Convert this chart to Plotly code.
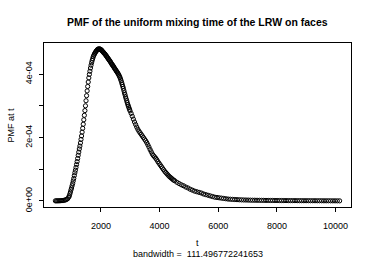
import plotly.graph_objects as go

# t values (grid) and PMF values (units of 1e-6)
t_low = [446, 484, 522, 560, 598, 636, 674, 712, 750, 788, 826, 864]
pmf_low = [0.4, 0.4, 0.5, 0.6, 0.7, 0.9, 1.2, 1.6, 2.3, 3.3, 4.8, 7]

t_rise = [902, 921, 940, 959, 978, 997, 1016, 1035, 1054, 1073, 1092, 1111, 1130, 1149,
          1168, 1187, 1206, 1225, 1244, 1263, 1282, 1301, 1320, 1339, 1358, 1377, 1396,
          1415, 1434, 1453, 1472, 1491, 1510, 1529, 1548, 1567, 1586, 1605, 1624, 1643,
          1662, 1681, 1700, 1719, 1738, 1757, 1776, 1795, 1814, 1833, 1852, 1871, 1890,
          1909, 1928, 1947]
pmf_rise = [12, 16, 22, 28, 35, 41, 48, 55, 63, 71, 80, 89, 97, 106, 115, 124, 134, 144,
            154, 164, 173, 183, 194, 205, 217, 229, 242, 256, 270, 285, 300, 316, 332,
            347, 361, 375, 388, 399, 409, 419, 428, 436, 443, 449, 455, 459, 463, 466,
            469, 472, 474, 476, 478, 479, 479, 479]

t_fall = [1966, 1985, 2004, 2023, 2042, 2061, 2080, 2099, 2118, 2137, 2156, 2175, 2194,
          2213, 2232, 2251, 2270, 2289, 2308, 2327, 2346, 2365, 2384, 2403, 2422, 2441,
          2460, 2479, 2498, 2517, 2536, 2555, 2574, 2593, 2612, 2631, 2650, 2669, 2688,
          2707, 2726, 2745, 2764, 2783, 2802, 2821, 2840, 2859, 2878, 2897, 2916, 2935,
          2954, 2973, 2992]
pmf_fall = [479, 478, 477, 475, 473, 471, 469, 467, 465, 463, 461, 458, 456, 453, 451,
            448, 446, 443, 441, 438, 435, 432, 430, 427, 425, 422, 419, 416, 414, 411,
            408, 406, 403, 400, 397, 393, 389, 384, 379, 373, 367, 361, 355, 348, 341,
            335, 328, 322, 316, 310, 304, 299, 294, 289, 284]

t_shoulder = [3030, 3068, 3106, 3144, 3182, 3220, 3258, 3296, 3334, 3372, 3410, 3448,
              3486, 3524, 3562, 3600, 3638, 3676, 3714, 3752, 3790, 3828, 3866, 3904,
              3942, 3980, 4018, 4056, 4094, 4132, 4170, 4208, 4246, 4284, 4322, 4360,
              4398, 4436, 4474]
pmf_shoulder = [276, 267, 258, 249, 241, 233, 226, 220, 215, 210, 205, 200, 195, 190,
                184, 177, 170, 162, 155, 148, 143, 139, 135, 130, 124, 119, 114, 109,
                104, 99, 94, 90, 86, 82, 78, 75, 72, 69, 66]

t_tail = [4512, 4588, 4664, 4740, 4816, 4892, 4968, 5044, 5120, 5196, 5272, 5348, 5424,
          5500, 5576, 5652, 5728, 5804, 5880, 5956, 6032, 6108, 6184, 6260, 6336, 6412,
          6488, 6564, 6640, 6716, 6792, 6868, 6944, 7020, 7096, 7172, 7248, 7324, 7400,
          7476, 7552, 7628, 7704, 7780, 7856, 7932, 8008, 8084, 8160, 8236, 8312, 8388,
          8464, 8540, 8616, 8692, 8768, 8844, 8920, 8996, 9072, 9148, 9224, 9300, 9376,
          9452, 9528, 9604, 9680, 9756, 9832, 9908, 9984, 10060, 10139]
pmf_tail = [64, 59, 55, 51, 48, 44, 41, 37, 34, 31, 29, 27, 25, 22, 20, 18, 16, 14, 12,
            11, 10, 9, 8, 7, 6, 5.5, 5, 4.6, 4.2, 3.8, 3.5, 3.2, 3, 2.8, 2.6, 2.4, 2.3,
            2.2, 2.1, 2, 1.9, 1.8, 1.7, 1.6, 1.6, 1.5, 1.5, 1.4, 1.4, 1.3, 1.3, 1.2, 1.2,
            1.1, 1.1, 1.0, 1.0, 1.0, 0.9, 0.9, 0.9, 0.8, 0.8, 0.8, 0.7, 0.7, 0.7, 0.6,
            0.6, 0.6, 0.5, 0.5, 0.5, 0.4, 0.4]

x_ticks = [2000, 4000, 6000, 8000, 10000]
y_ticks = [0, 1e-4, 2e-4, 3e-4, 4e-4]
y_tick_labels = ["0e+00", "", "2e-04", "", "4e-04"]

title_text = "PMF of the uniform mixing time of the LRW on faces"
x_label = "t"
sub_label = "bandwidth =\u00a0 111.496772241653"
y_label = "PMF at t"

t_all = t_low + t_rise + t_fall + t_shoulder + t_tail
pmf_all = [v * 1e-6 for v in (pmf_low + pmf_rise + pmf_fall + pmf_shoulder + pmf_tail)]

FONT = "Liberation Sans, Arial, Helvetica, sans-serif"

fig = go.Figure()
fig.add_trace(go.Scatter(
    x=t_all, y=pmf_all, mode="markers",
    marker=dict(symbol="circle-open", size=4.2, color="black", line=dict(width=1, color="black")),
    showlegend=False, hoverinfo="skip"))

fig.update_layout(
    width=374, height=261,
    margin=dict(l=44, r=23, t=43, b=54),
    paper_bgcolor="white", plot_bgcolor="white",
    font=dict(family=FONT, size=9, color="black"),
    xaxis=dict(range=[58, 10527], tickvals=x_ticks, ticktext=[str(v) for v in x_ticks],
               ticks="outside", ticklen=4, tickwidth=1, tickcolor="black",
               showline=True, mirror=True, linecolor="black", linewidth=1,
               showgrid=False, zeroline=False, tickfont=dict(size=9),
               ticklabelstandoff=6),
    yaxis=dict(range=[-1.9e-5, 4.98e-4], tickvals=y_ticks, ticktext=y_tick_labels,
               ticks="outside", ticklen=4, tickwidth=1, tickcolor="black",
               showline=True, mirror=True, linecolor="black", linewidth=1,
               showgrid=False, zeroline=False, tickangle=-90, tickfont=dict(size=9),
               ticklabelstandoff=3),
    annotations=[
        dict(text="<b>" + title_text + "</b>", xref="paper", yref="paper", x=0.5, y=1.128,
             xanchor="center", yanchor="middle", showarrow=False, font=dict(size=10.5)),
        dict(text=x_label, xref="paper", yref="paper", x=0.5, y=-0.2195,
             xanchor="center", yanchor="middle", showarrow=False, font=dict(size=9)),
        dict(text=sub_label, xref="paper", yref="paper", x=0.5, y=-0.2866,
             xanchor="center", yanchor="middle", showarrow=False, font=dict(size=9)),
        dict(text=y_label, xref="paper", yref="paper", x=-0.109, y=0.5, textangle=-90,
             xanchor="center", yanchor="middle", showarrow=False, font=dict(size=9)),
    ],
)

fig.write_html("out.html", config={"displayModeBar": False},
               post_script="document.body.style.margin='0';document.body.style.overflow='hidden';")
